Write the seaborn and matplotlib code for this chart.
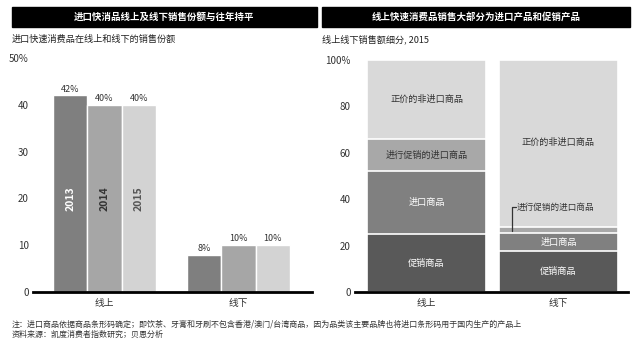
import numpy as np
import pandas as pd
import seaborn as sns
import matplotlib.pyplot as plt
from matplotlib.patches import Rectangle

# data
channels = ['线上', '线下']
years = ['2013', '2014', '2015']
share_online = [42, 40, 40]
share_offline = [8, 10, 10]

segments = ['促销商品', '进口商品', '进行促销的进口商品', '正价的非进口商品']
seg_online = [25, 27, 14, 34]
seg_offline = [17.5, 8, 2.5, 72]

year_colors = ['#7f7f7f', '#a6a6a6', '#d3d3d3']
seg_colors = ['#595959', '#808080', '#a8a8a8', '#d9d9d9']

sns.set_theme(style='white')
plt.rcParams['font.family'] = ['Noto Sans CJK SC', 'DejaVu Sans']
W, H = 640, 355


def fx(x):
    return x / W


def fy(y):
    return 1 - y / H


fig = plt.figure(figsize=(6.4, 3.55), dpi=100)

# black title bars
for x0, x1, t in [(12, 317, '进口快消品线上及线下销售份额与往年持平'),
                  (322, 630, '线上快速消费品销售大部分为进口产品和促销产品')]:
    fig.patches.append(Rectangle((fx(x0), fy(27)), fx(x1 - x0), 20 / H,
                                 transform=fig.transFigure, color='black'))
    fig.text(fx((x0 + x1) / 2), fy(17), t, color='white', fontsize=6.8,
             fontweight='bold', ha='center', va='center')

fig.text(fx(12), fy(39), '进口快速消费品在线上和线下的销售份额', fontsize=6.6,
         color='#222222', va='center')
fig.text(fx(322), fy(39), '线上线下销售额细分, 2015', fontsize=6.6,
         color='#222222', va='center')

# left chart
df = pd.DataFrame({
    'channel': np.repeat(channels, len(years)),
    'year': years * len(channels),
    'share': share_online + share_offline,
})
ax1 = fig.add_axes([fx(33), fy(292), fx(279), 234 / H])
sns.barplot(data=df, x='channel', y='share', hue='year', palette=year_colors,
            width=0.77, edgecolor='white', linewidth=1, legend=False, ax=ax1)
ax1.set_ylim(0, 50)
ax1.set_xlim(-0.534, 1.549)
ax1.set_yticks([0, 10, 20, 30, 40, 50])
ax1.set_yticklabels(['0', '10', '20', '30', '40', '50%'])

label_cols = ['white', '#333333', '#555555']
for i, cont in enumerate(ax1.containers):
    for j, bar in enumerate(cont):
        cx = bar.get_x() + bar.get_width() / 2
        h = bar.get_height()
        ax1.text(cx, h + 0.4, f'{h:.0f}%', ha='center', va='bottom',
                 fontsize=6.5, color='#333333')
        if j == 0:
            ax1.text(cx, 20, years[i], rotation=90, ha='center', va='center',
                     fontsize=7.5, fontweight='bold', color=label_cols[i])

# right chart
ax2 = fig.add_axes([fx(355), fy(292), fx(273), 232 / H])
cum_on = np.cumsum(seg_online)
cum_off = np.cumsum(seg_offline)
for k in range(len(segments) - 1, -1, -1):
    sns.barplot(x=channels, y=[cum_on[k], cum_off[k]], color=seg_colors[k],
                width=0.9, edgecolor='white', linewidth=1.2, ax=ax2)
ax2.set_ylim(0, 100)
ax2.set_xlim(-0.542, 1.527)
ax2.set_yticks([0, 20, 40, 60, 80, 100])
ax2.set_yticklabels(['0', '20', '40', '60', '80', '100%'])

txt_cols = ['white', 'white', '#333333', '#333333']
for k, name in enumerate(segments):
    mid = cum_on[k] - seg_online[k] / 2
    ax2.text(0, mid, name, ha='center', va='center', fontsize=6.6,
             color=txt_cols[k])
    if k == 2:
        continue
    mid = cum_off[k] - seg_offline[k] / 2
    if k == 3:
        mid = 64.5
    ax2.text(1, mid, name, ha='center', va='center', fontsize=6.6,
             color=txt_cols[k])

# callout for the thin offline segment
ax2.plot([0.648, 0.648, 0.675], [cum_off[1] + 1, 36.5, 36.5], color='#333333',
         lw=0.9)
ax2.text(0.68, 36.5, segments[2], ha='left', va='center', fontsize=6.2,
         color='#333333')

for ax in (ax1, ax2):
    sns.despine(ax=ax, left=True)
    ax.spines['bottom'].set_linewidth(2)
    ax.spines['bottom'].set_color('black')
    ax.set_xlabel('')
    ax.set_ylabel('')
    ax.tick_params(axis='y', length=0, pad=3, labelsize=7, labelcolor='#333333')
    ax.tick_params(axis='x', length=0, pad=4, labelsize=7, labelcolor='#333333')

fig.text(fx(12), fy(324), '注：进口商品依据商品条形码确定；即饮茶、牙膏和牙刷不包含香港/澳门/台湾商品，'
         '因为品类该主要品牌也将进口条形码用于国内生产的产品上',
         fontsize=5.75, color='#333333', va='center')
fig.text(fx(12), fy(334), '资料来源：凯度消费者指数研究；贝恩分析',
         fontsize=5.75, color='#333333', va='center')

fig.savefig('out.png', dpi=100)
